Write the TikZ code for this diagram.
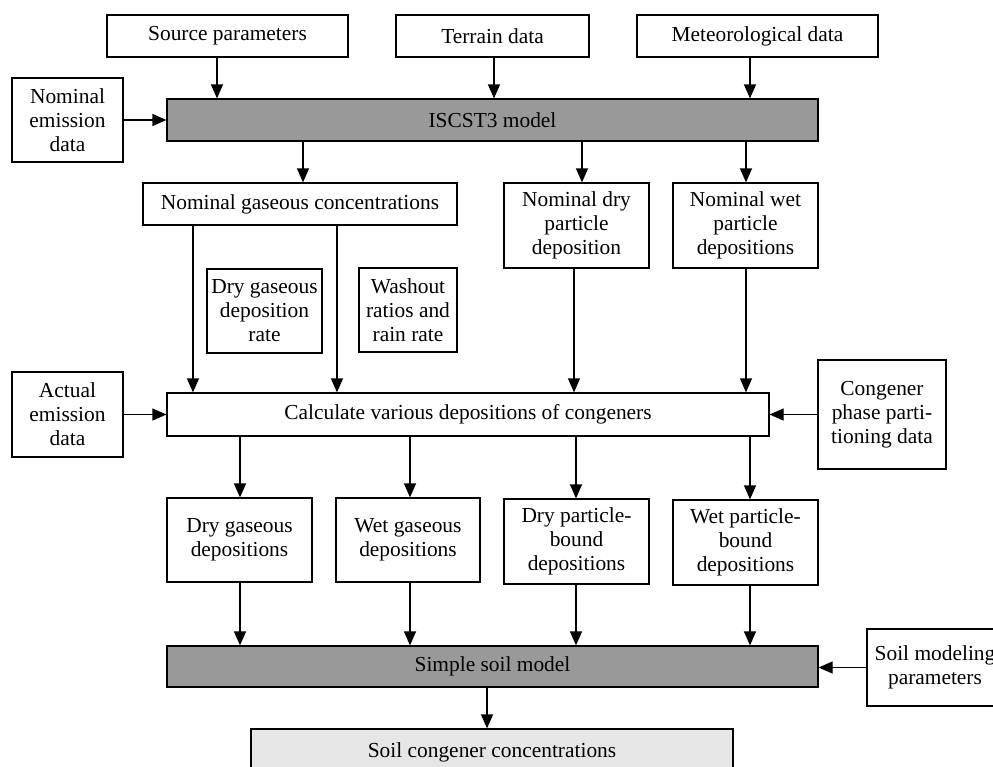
\documentclass[tikz,border=0pt]{standalone}
\usepackage{fontspec}
\setmainfont{Liberation Serif}
\usetikzlibrary{arrows.meta,calc,positioning}

\definecolor{modelgray}{HTML}{999999}
\definecolor{resultgray}{HTML}{E6E6E6}

\tikzset{
  box/.style={draw, line width=0.6pt, align=center, inner sep=1pt, font=\fontsize{10.7}{12}\selectfont},
  model/.style={box, fill=modelgray},
  arr/.style={-{Triangle[width=6pt,length=7pt]}, line width=0.6pt},
}

% vertical connector: from #1 (shifted by #2) down to #3
\newcommand{\vconn}[3]{\draw[arr] ($(#1.south)+(#2,0)$) coordinate (t) -- (t |- #3.north);}

\begin{document}
\begin{tikzpicture}[x=0.5pt,y=-0.5pt]
  \clip (0,0) rectangle (993,767);
  % inputs
  \node[box, minimum width=120.5pt, minimum height=21pt] (src) at (227.5,36) {Source parameters};
  \node[box, minimum width=96.5pt, minimum height=21pt] (ter) at (492.5,36) {Terrain data};
  \node[box, minimum width=120.5pt, minimum height=21pt] (met) at (757.5,36) {Meteorological data};
  \node[box, minimum width=55.5pt, minimum height=42pt] (nomem) at (67.5,120) {Nominal\\emission\\data};
  \node[model, minimum width=325.5pt, minimum height=21pt] (isc) at (492.5,120) {ISCST3 model};
  % nominal outputs
  \node[box, minimum width=157pt, minimum height=21pt] (ngc) at (300,204) {Nominal gaseous concentrations};
  \node[box, minimum width=72.5pt, minimum height=42.5pt] (ndp) at (576.5,225.5) {Nominal dry\\particle\\deposition};
  \node[box, minimum width=72.5pt, minimum height=42.5pt] (nwp) at (745.5,225.5) {Nominal wet\\particle\\depositions};
  \node[box, minimum width=57.5pt, minimum height=42pt] (dgr) at (264.5,311) {Dry gaseous\\deposition\\rate};
  \node[box, minimum width=49pt, minimum height=42pt] (wsh) at (408,310) {Washout\\ratios and\\rain rate};
  % congener step
  \node[box, minimum width=55.5pt, minimum height=42.5pt] (act) at (67.5,414.5) {Actual\\emission\\data};
  \node[box, minimum width=301pt, minimum height=21.5pt] (calc) at (468,414.5) {Calculate various depositions of congeners};
  \node[box, minimum width=64pt, minimum height=54.5pt] (cpp) at (882,414.5) {Congener\\phase parti-\\tioning data};
  \node[box, minimum width=72.5pt, minimum height=42pt] (dgd) at (239.5,540) {Dry gaseous\\depositions};
  \node[box, minimum width=72pt, minimum height=42pt] (wgd) at (408,540) {Wet gaseous\\depositions};
  \node[box, minimum width=72.5pt, minimum height=42.5pt] (dpb) at (576.5,541.5) {Dry particle-\\bound\\depositions};
  \node[box, minimum width=72.5pt, minimum height=42.5pt] (wpb) at (745.5,542.5) {Wet particle-\\bound\\depositions};
  % soil
  \node[model, minimum width=325.5pt, minimum height=20.5pt] (soil) at (492.5,666.5) {Simple soil model};
  \node[box, minimum width=68pt, minimum height=38.5pt] (smp) at (935,667.5) {Soil modeling\\parameters};
  \node[box, fill=resultgray, minimum width=241pt, minimum height=23pt] (scc) at (492,752) {Soil congener concentrations};

  \vconn{src}{-10.5}{isc}
  \vconn{ter}{1.5}{isc}
  \vconn{met}{-7.5}{isc}
  \vconn{isc}{-189.5}{ngc}
  \vconn{isc}{89.5}{ndp}
  \vconn{isc}{253.5}{nwp}
  \vconn{ngc}{-107}{calc}
  \vconn{ngc}{37}{calc}
  \vconn{ndp}{-2.5}{calc}
  \vconn{nwp}{0.5}{calc}
  \vconn{calc}{-228}{dgd}
  \vconn{calc}{-58}{wgd}
  \vconn{calc}{108}{dpb}
  \vconn{calc}{282}{wpb}
  \vconn{dgd}{0.5}{soil}
  \vconn{wgd}{2}{soil}
  \vconn{dpb}{-0.5}{soil}
  \vconn{wpb}{4.5}{soil}
  \vconn{soil}{-5.5}{scc}
  \draw[arr] (nomem.east) -- (nomem.east -| isc.west);
  \draw[arr] (act.east) -- (act.east -| calc.west);
  \draw[arr] (cpp.west) -- (cpp.west -| calc.east);
  \draw[arr] (smp.west) -- (smp.west -| soil.east);
\end{tikzpicture}
\end{document}
